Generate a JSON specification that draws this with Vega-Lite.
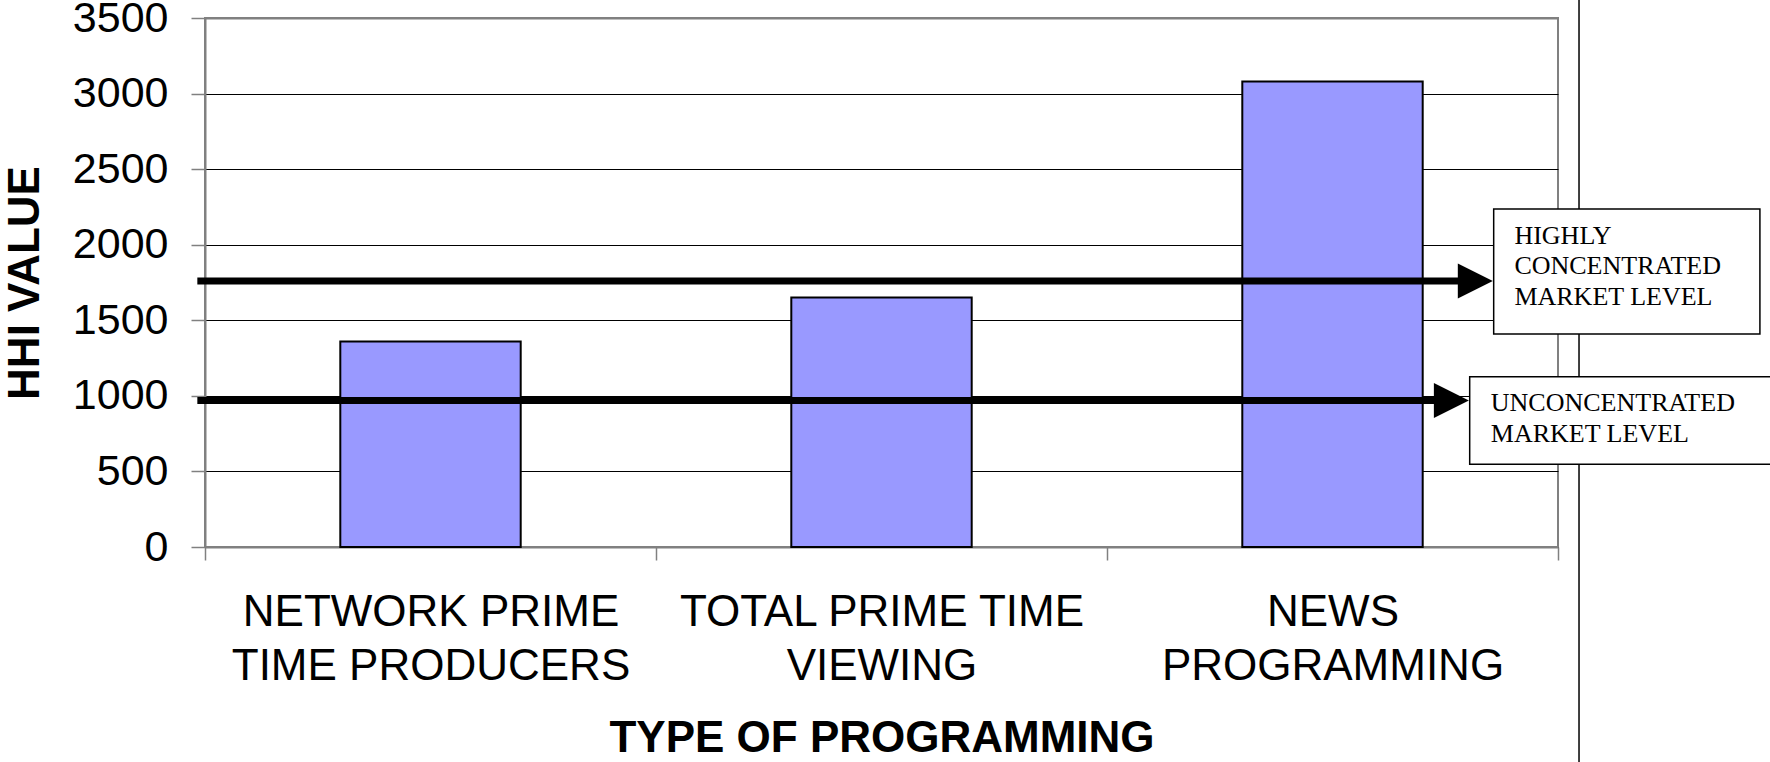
{
  "$schema": "https://vega.github.io/schema/vega-lite/v6.json",
  "width": 1353,
  "height": 529,
  "autosize": {"type": "none"},
  "padding": {"left": 205, "top": 18, "right": 212, "bottom": 215},
  "background": "white",
  "config": {
    "view": {"stroke": "#808080", "strokeWidth": 2},
    "font": "Liberation Sans"
  },
  "datasets": {
    "hhi": [
      {"type": "NETWORK PRIME\nTIME PRODUCERS", "hhi": 1360},
      {"type": "TOTAL PRIME TIME\nVIEWING", "hhi": 1650},
      {"type": "NEWS\nPROGRAMMING", "hhi": 3080}
    ],
    "thresholds": [
      {"level": "high", "hhi": 1760, "label": "HIGHLY\nCONCENTRATED\nMARKET LEVEL"},
      {"level": "low", "hhi": 970, "label": "UNCONCENTRATED\n\u00a0MARKET LEVEL"}
    ]
  },
  "layer": [
    {
      "data": {"name": "hhi"},
      "mark": {"type": "bar", "fill": "#9999FF", "stroke": "black", "strokeWidth": 2, "width": {"band": 0.4}},
      "encoding": {
        "x": {
          "field": "type", "type": "nominal", "sort": null,
          "scale": {"paddingInner": 0, "paddingOuter": 0},
          "title": "TYPE OF PROGRAMMING",
          "axis": {
            "labelExpr": "split(datum.label, '\\n')",
            "labelAngle": 0, "labelFontSize": 44, "labelFont": "Liberation Sans", "labelColor": "black",
            "labelLineHeight": 54, "labelPadding": 30, "labelLimit": 1000, "labelOverlap": false,
            "tickSize": 13, "tickBand": "extent", "tickColor": "#808080", "tickWidth": 1.5,
            "domainColor": "#808080", "domainWidth": 2,
            "titleFontSize": 44, "titleFont": "Liberation Sans", "titleFontWeight": "bold", "titleColor": "black",
            "titlePadding": 28
          }
        },
        "y": {
          "field": "hhi", "type": "quantitative",
          "scale": {"domain": [0, 3500], "nice": false},
          "title": "HHI VALUE",
          "axis": {
            "values": [0, 500, 1000, 1500, 2000, 2500, 3000, 3500], "format": "d",
            "labelFontSize": 43, "labelFont": "Liberation Sans", "labelColor": "black", "labelPadding": 23,
            "tickSize": 14, "tickColor": "#808080", "tickWidth": 1.5,
            "domainColor": "#808080", "domainWidth": 2,
            "gridColor": {"condition": {"test": "datum.value == 3500", "value": "#808080"}, "value": "black"},
            "gridWidth": {"condition": {"test": "datum.value == 3500", "value": 2}, "value": 1},
            "titleFontSize": 44, "titleFont": "Liberation Sans", "titleFontWeight": "bold", "titleColor": "black",
            "titlePadding": 25
          }
        }
      }
    },
    {
      "data": {"name": "thresholds"},
      "layer": [
        {
          "data": {"values": [{}]},
          "mark": {"type": "rule", "color": "black", "strokeWidth": 1.5},
          "encoding": {
            "x": {"datum": 3.0466, "type": "quantitative", "scale": {"domain": [0, 3], "nice": false, "zero": false}, "axis": null},
            "y": {"datum": 3700, "type": "quantitative", "scale": {"domain": [0, 3500], "nice": false}, "title": "HHI VALUE"},
            "y2": {"datum": -1500}
          }
        },
        {
          "transform": [{"filter": "datum.level == 'high'"}],
          "mark": {"type": "rule", "color": "black", "strokeWidth": 7},
          "encoding": {
            "x": {"datum": -0.017, "type": "quantitative", "axis": null},
            "x2": {"datum": 2.783},
            "y": {"field": "hhi", "type": "quantitative", "title": "HHI VALUE"}
          }
        },
        {
          "transform": [{"filter": "datum.level == 'high'"}],
          "mark": {"type": "point", "shape": "M-1,-1L1,0L-1,1Z", "size": 1225, "filled": true, "color": "black", "opacity": 1},
          "encoding": {
            "x": {"datum": 2.8166, "type": "quantitative", "axis": null},
            "y": {"field": "hhi", "type": "quantitative", "title": "HHI VALUE"}
          }
        },
        {
          "transform": [{"filter": "datum.level == 'low'"}],
          "mark": {"type": "rule", "color": "black", "strokeWidth": 7},
          "encoding": {
            "x": {"datum": -0.017, "type": "quantitative", "axis": null},
            "x2": {"datum": 2.7294},
            "y": {"field": "hhi", "type": "quantitative", "title": "HHI VALUE"}
          }
        },
        {
          "transform": [{"filter": "datum.level == 'low'"}],
          "mark": {"type": "point", "shape": "M-1,-1L1,0L-1,1Z", "size": 1225, "filled": true, "color": "black", "opacity": 1},
          "encoding": {
            "x": {"datum": 2.7636, "type": "quantitative", "axis": null},
            "y": {"field": "hhi", "type": "quantitative", "title": "HHI VALUE"}
          }
        },
        {
          "transform": [{"filter": "datum.level == 'high'"}],
          "mark": {"type": "rect", "fill": "white", "stroke": "black", "strokeWidth": 1.5},
          "encoding": {
            "x": {"datum": 2.8574, "type": "quantitative", "axis": null},
            "x2": {"datum": 3.4477},
            "y": {"datum": 2235.6, "type": "quantitative", "title": "HHI VALUE"},
            "y2": {"datum": 1409.7}
          }
        },
        {
          "transform": [{"filter": "datum.level == 'low'"}],
          "mark": {"type": "rect", "fill": "white", "stroke": "black", "strokeWidth": 1.5},
          "encoding": {
            "x": {"datum": 2.8042, "type": "quantitative", "axis": null},
            "x2": {"datum": 3.4747},
            "y": {"datum": 1125.7, "type": "quantitative", "title": "HHI VALUE"},
            "y2": {"datum": 548}
          }
        },
        {
          "transform": [{"filter": "datum.level == 'high'"}],
          "mark": {"type": "text", "font": "Liberation Serif", "fontSize": 26, "color": "black", "align": "left", "baseline": "alphabetic", "lineBreak": "\n", "lineHeight": 30.8},
          "encoding": {
            "x": {"datum": 2.9033, "type": "quantitative", "axis": null},
            "y": {"datum": 2006.7, "type": "quantitative", "title": "HHI VALUE"},
            "text": {"field": "label", "type": "nominal"}
          }
        },
        {
          "transform": [{"filter": "datum.level == 'low'"}],
          "mark": {"type": "text", "font": "Liberation Serif", "fontSize": 26, "color": "black", "align": "left", "baseline": "alphabetic", "lineBreak": "\n", "lineHeight": 31.4},
          "encoding": {
            "x": {"datum": 2.851, "type": "quantitative", "axis": null},
            "y": {"datum": 902.5, "type": "quantitative", "title": "HHI VALUE"},
            "text": {"field": "label", "type": "nominal"}
          }
        }
      ]
    }
  ],
  "resolve": {"scale": {"x": "independent"}, "axis": {"x": "independent"}}
}
